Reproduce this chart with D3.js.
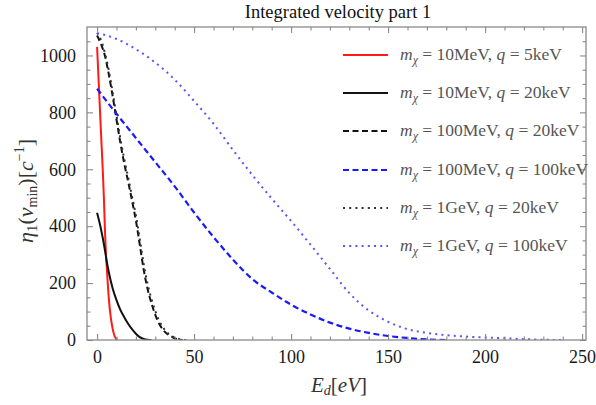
<!DOCTYPE html>
<html><head><meta charset="utf-8">
<script src="https://cdn.jsdelivr.net/npm/d3@7"></script>
<style>body{margin:0;background:#fff}svg{display:block}
text{font-family:'Liberation Serif','Times New Roman',serif}</style>
</head><body>
<script>
// ---- data ----
const title = "Integrated velocity part 1";
const xTicks = [0, 50, 100, 150, 200, 250];
const yTicks = [0, 200, 400, 600, 800, 1000];

const redX = [0, 1, 2, 3, 3.5, 4, 4.5, 5, 6, 7, 8, 9, 10, 10.5];
const redY = [1030, 880, 730, 585, 500, 395, 310, 255, 150, 82, 40, 14, 3, 0];

const blackX = [0, 2, 4, 5, 6, 8, 10, 12, 14, 16, 18, 20, 22, 24, 26, 28];
const blackY = [447, 390, 318, 275, 240, 182, 140, 106, 80, 57, 38, 22, 10, 4, 1, 0];

const blackDashX = [0, 2, 4, 6, 8, 10, 12, 14, 16, 18, 20, 22, 24, 26, 28, 30, 32, 34, 36, 38, 40, 42, 44];
const blackDashY = [1070, 1040, 1000, 935, 858, 775, 693, 620, 557, 490, 420, 335, 248, 180, 130, 88, 57, 36, 22, 14, 6, 2, 0];

const blueDashX = [0, 10, 20, 30, 40, 50, 60, 70, 80, 90, 100, 110, 120, 130, 140, 150, 160, 170, 180];
const blueDashY = [883, 795, 710, 625, 540, 448, 362, 283, 214, 167, 124, 90, 61, 40, 25, 14, 7, 2, 0];

const blackDotX = [0, 2, 4, 6, 8, 10, 12, 14, 16, 18, 20, 22, 24, 26, 28, 30, 32, 34, 36, 38, 40, 42, 44, 46];
const blackDotY = [1080, 1055, 1010, 948, 872, 790, 708, 636, 572, 505, 438, 355, 268, 198, 145, 102, 68, 44, 27, 16, 9, 4, 1, 0];

const blueDotX = [0, 5, 10, 20, 30, 40, 50, 60, 70, 80, 90, 100, 110, 120, 130, 140, 150, 160, 170, 180, 190, 200, 210, 220, 230, 240];
const blueDotY = [1078, 1070, 1058, 1022, 975, 915, 840, 760, 668, 580, 497, 418, 335, 250, 165, 104, 64, 38, 25, 17, 12, 9, 6, 3, 1, 0];

const legendMass = ["10MeV", "10MeV", "100MeV", "100MeV", "1GeV", "1GeV"];
const legendQ = ["5keV", "20keV", "20keV", "100keV", "20keV", "100keV"];

// ---- layout ----
const W = 596, H = 405;
const L = 87, R = 586, T = 27, B = 340;
const x = d3.scaleLinear().domain([-5.2, 252]).range([L, R]);
const y = d3.scaleLinear().domain([0, 1100]).range([B, T]);

const svg = d3.select("body").append("svg").attr("width", W).attr("height", H);
const serif = "'Liberation Serif', 'Times New Roman', serif";

const series = [
  {xs: redX, ys: redY, color: "#ff1a1a", w: 2, dash: null},
  {xs: blackX, ys: blackY, color: "#111", w: 2, dash: null},
  {xs: blackDashX, ys: blackDashY, color: "#111", w: 2, dash: "6,3.5"},
  {xs: blueDashX, ys: blueDashY, color: "#1a1aff", w: 2.2, dash: "6,3.5"},
  {xs: blackDotX, ys: blackDotY, color: "#333", w: 2, dash: "2,4.2"},
  {xs: blueDotX, ys: blueDotY, color: "#5555ff", w: 2, dash: "2,4.2"}
];

svg.append("defs").append("clipPath").attr("id", "clip")
  .append("rect").attr("x", L).attr("y", T).attr("width", R - L).attr("height", B - T);

const line = d3.line().x(d => x(d[0])).y(d => y(d[1])).curve(d3.curveMonotoneX);
const g = svg.append("g").attr("clip-path", "url(#clip)");
series.forEach(s => {
  g.append("path")
    .datum(s.xs.map((v, i) => [v, s.ys[i]]))
    .attr("d", line).attr("fill", "none")
    .attr("stroke", s.color).attr("stroke-width", s.w)
    .attr("stroke-dasharray", s.dash);
});

// ---- frame and ticks ----
const frameColor = "#8a8a8a";
svg.append("rect").attr("x", L).attr("y", T).attr("width", R - L).attr("height", B - T)
  .attr("fill", "none").attr("stroke", frameColor).attr("stroke-width", 1.3);

const xMinor = d3.range(0, 251, 10).filter(v => v % 50 !== 0);
const yMinor = d3.range(0, 1100, 50).filter(v => v % 200 !== 0);
const fmt = d3.format("d");

const xAxisB = d3.axisBottom(x).tickValues(xTicks).tickFormat(fmt).tickSizeInner(-6).tickSizeOuter(0).tickPadding(10);
const xAxisT = d3.axisTop(x).tickValues(xTicks).tickSizeInner(-6).tickSizeOuter(0).tickFormat("");
const yAxisL = d3.axisLeft(y).tickValues(yTicks).tickFormat(fmt).tickSizeInner(-6).tickSizeOuter(0).tickPadding(11);
const yAxisR = d3.axisRight(y).tickValues(yTicks).tickSizeInner(-6).tickSizeOuter(0).tickFormat("");

function styleAxis(sel) {
  sel.attr("font-family", null).attr("font-size", null);
  sel.select(".domain").remove();
  sel.selectAll("line").attr("stroke", frameColor).attr("stroke-width", 1.1);
  sel.selectAll("text").style("font-family", serif).style("font-size", "18px").attr("fill", "#1a1a1a");
}
svg.append("g").attr("transform", `translate(0,${B})`).call(xAxisB).call(styleAxis);
svg.append("g").attr("transform", `translate(0,${T})`).call(xAxisT).call(styleAxis);
svg.append("g").attr("transform", `translate(${L},0)`).call(yAxisL).call(styleAxis);
svg.append("g").attr("transform", `translate(${R},0)`).call(yAxisR).call(styleAxis);

svg.append("g").attr("transform", `translate(0,${B})`).call(d3.axisBottom(x).tickValues(xMinor).tickSizeInner(-3.5).tickSizeOuter(0).tickFormat("")).call(styleAxis);
svg.append("g").attr("transform", `translate(0,${T})`).call(d3.axisTop(x).tickValues(xMinor).tickSizeInner(-3.5).tickSizeOuter(0).tickFormat("")).call(styleAxis);
svg.append("g").attr("transform", `translate(${L},0)`).call(d3.axisLeft(y).tickValues(yMinor).tickSizeInner(-3.5).tickSizeOuter(0).tickFormat("")).call(styleAxis);
svg.append("g").attr("transform", `translate(${R},0)`).call(d3.axisRight(y).tickValues(yMinor).tickSizeInner(-3.5).tickSizeOuter(0).tickFormat("")).call(styleAxis);

// ---- title ----
svg.append("text").attr("x", 338).attr("y", 18).attr("text-anchor", "middle")
  .style("font-family", serif).style("font-size", "18.5px").attr("fill", "#111").text(title);

// ---- axis labels ----
const xl = svg.append("text").attr("x", 339).attr("y", 392).attr("text-anchor", "middle")
  .style("font-family", serif).style("font-size", "21px").attr("fill", "#333");
xl.append("tspan").attr("font-style", "italic").text("E");
xl.append("tspan").attr("font-style", "italic").style("font-size", "14px").attr("dy", 3).text("d");
xl.append("tspan").attr("dy", -3).text("[");
xl.append("tspan").attr("font-style", "italic").text("eV");
xl.append("tspan").text("]");

const yl = svg.append("text").attr("transform", "translate(33,191) rotate(-90)").attr("text-anchor", "middle")
  .style("font-family", serif).style("font-size", "22px").attr("fill", "#333");
yl.append("tspan").attr("font-style", "italic").text("η");
yl.append("tspan").style("font-size", "15px").attr("dy", 4).text("1");
yl.append("tspan").attr("dy", -4).text("(");
yl.append("tspan").attr("font-style", "italic").text("v");
yl.append("tspan").style("font-size", "14px").attr("dy", 4).text("min");
yl.append("tspan").attr("dy", -4).text(")[");
yl.append("tspan").attr("font-style", "italic").text("c");
yl.append("tspan").style("font-size", "14px").attr("dy", -9).text("−1");
yl.append("tspan").attr("dy", 9).text("]");

// ---- legend ----
const rowY = [55, 93, 131, 170, 208, 246];
series.forEach((s, i) => {
  svg.append("line").attr("x1", 343).attr("x2", 388).attr("y1", rowY[i]).attr("y2", rowY[i])
    .attr("stroke", s.color).attr("stroke-width", s.w)
    .attr("stroke-dasharray", s.dash);
  const t = svg.append("text").attr("x", 400).attr("y", rowY[i] + 5)
    .style("font-family", serif).style("font-size", "17.5px").attr("fill", "#555");
  t.append("tspan").attr("font-style", "italic").text("m");
  t.append("tspan").attr("font-style", "italic").style("font-size", "12px").attr("dy", 4).text("χ");
  t.append("tspan").attr("dy", -4).text(" = " + legendMass[i] + ", ");
  t.append("tspan").attr("font-style", "italic").text("q");
  t.append("tspan").text(" = " + legendQ[i]);
});
</script>
</body></html>
